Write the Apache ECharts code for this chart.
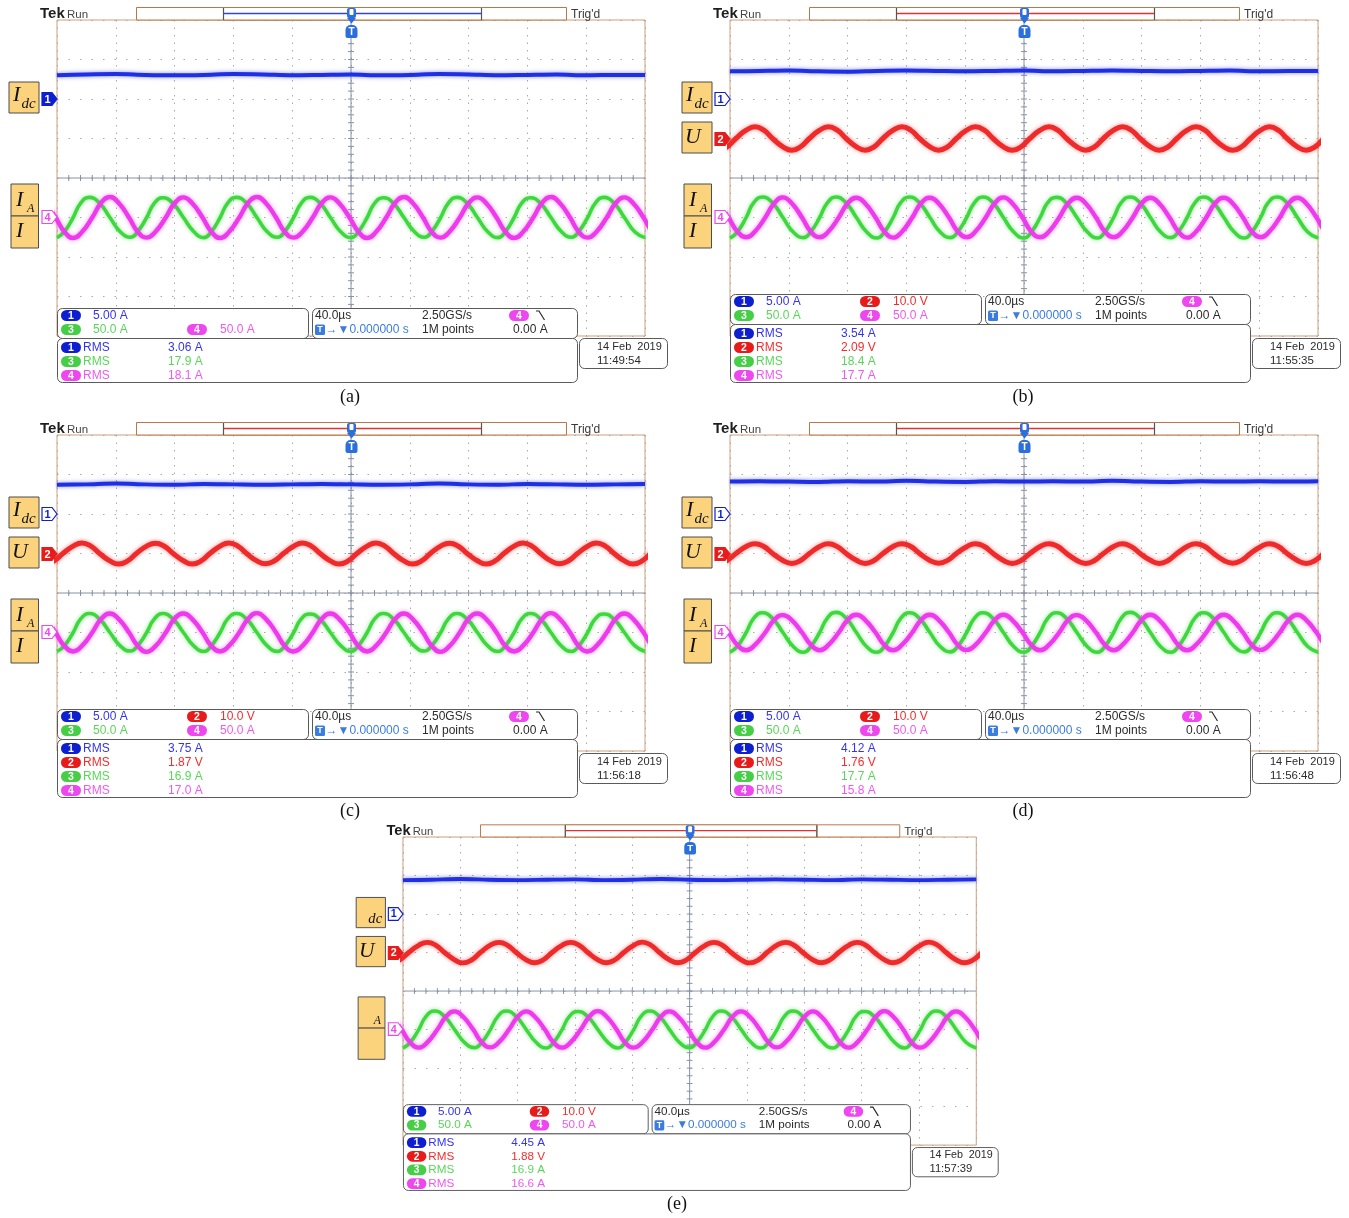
<!DOCTYPE html>
<html>
<head>
<meta charset="utf-8">
<title>Oscilloscope captures (a)–(e)</title>
<script src="https://cdn.jsdelivr.net/npm/echarts/dist/echarts.min.js"></script>
<style>
  html, body { margin: 0; padding: 0; background: #ffffff; }
  #chart { width: 1349px; height: 1218px; }
</style>
</head>
<body>
<div id="chart"></div>
<script>
// ---------------- acquisition settings ----------------
// Horizontal: 40.0 µs/div over 10 divisions, trigger in the centre (µs)
const TIME_MIN = -200;
const TIME_MAX = 200;
const TIME_DIV = 40;

// Vertical settings of the four channels
const chPerDiv = [5, 10, 50, 50];        // A/div, V/div, A/div, A/div
const chOffsetDiv = [2, 1, -1, -1];      // ground marker, divisions above centre
const chScaleText = ['5.00 A', '10.0 V', '50.0 A', '50.0 A'];
const chUnit = ['A', 'V', 'A', 'A'];

// Captures (a)–(e)
const captions = ['(a)', '(b)', '(c)', '(d)', '(e)'];
const captureDate = '14 Feb  2019';
const captureTimes = ['11:49:54', '11:55:35', '11:56:18', '11:56:48', '11:57:39'];
const rmsCh1 = [3.06, 3.54, 3.75, 4.12, 4.45];
const rmsCh2 = [null, 2.09, 1.87, 1.76, 1.88];
const rmsCh3 = [17.9, 18.4, 16.9, 17.7, 16.9];
const rmsCh4 = [18.1, 17.7, 17.0, 15.8, 16.6];
const activeCh = [1, 2, 2, 2, 2];
const labelMain = ['I', 'I', 'I', 'I', ''];

// ---------------- trace samples ----------------
// sample instants (µs): ch1 every 20 µs, the others at peaks, troughs,
// mid crossings and the points half way between them
const tCh1 = [-200,-180,-160,-140,-120,-100,-80,-60,-40,-20,0,20,40,60,80,100,120,140,160,180,200];
const tCh2 = [
  -208,-202,-196,-189,-183,-177,-171,-164,
  -158,-152,-146,-139,-133,-127,-121,-114,
  -108,-102,-96,-89,-83,-77,-71,-64,
  -58,-52,-46,-39,-33,-27,-21,-14,
  -8,-2,4,11,17,23,29,36,
  42,48,54,61,67,73,79,86,
  92,98,104,111,117,123,129,136,
  142,148,154,161,167,173,179,186,
  192,198,204,211,217];
const tCh3 = [
  -200,-195,-189,-184,-178,-171,-164,-157,
  -150,-145,-139,-134,-128,-121,-114,-107,
  -100,-95,-89,-84,-78,-71,-64,-57,
  -50,-45,-39,-34,-28,-21,-14,-7,
  0,5,11,16,22,29,36,43,
  50,55,61,66,72,79,86,93,
  100,105,111,116,122,129,136,143,
  150,155,161,166,172,179,186,193,
  200];
const tCh4 = [
  -214,-208,-201,-195,-189,-183,-176,-170,
  -164,-158,-151,-145,-139,-133,-126,-120,
  -114,-108,-101,-95,-89,-83,-76,-70,
  -64,-58,-51,-45,-39,-33,-26,-20,
  -14,-8,-1,5,11,17,24,30,
  36,42,49,55,61,67,74,80,
  86,92,99,105,111,117,124,130,
  136,142,149,155,161,167,174,180,
  186,192,199,205,211];

// (a)
const ch1_a = [3.00,3.10,3.15,3.05,3.00,3.05,3.15,3.10,3.00,3.05,3.10,3.00,3.05,3.15,3.10,3.00,3.05,3.10,3.00,3.05,3.05];
const ch3_a = [
  -25.5,-18.0,0,18.0,25.5,18.0,0,-18.0,
  -25.0,-17.7,0,17.7,25.0,17.7,0,-17.7,
  -25.5,-18.0,0,18.0,25.5,18.0,0,-18.0,
  -25.0,-17.7,0,17.7,25.5,18.0,0,-18.0,
  -25.5,-18.0,0,18.0,25.0,17.7,0,-17.7,
  -25.0,-17.7,0,17.7,25.5,18.0,0,-18.0,
  -25.5,-18.0,0,18.0,25.0,17.7,0,-17.7,
  -25.0,-17.7,0,17.7,25.5,18.0,0,-18.0,
  -25.5];
const ch4_a = [
  25.5,18.0,0,-18.0,-26.0,-18.4,0,18.4,
  26.0,18.4,0,-18.4,-25.5,-18.0,0,18.0,
  25.5,18.0,0,-18.0,-26.0,-18.4,0,18.4,
  26.0,18.4,0,-18.4,-25.5,-18.0,0,18.0,
  25.5,18.0,0,-18.0,-26.0,-18.4,0,18.4,
  26.0,18.4,0,-18.4,-25.5,-18.0,0,18.0,
  25.5,18.0,0,-18.0,-26.0,-18.4,0,18.4,
  26.0,18.4,0,-18.4,-25.5,-18.0,0,18.0,
  25.5,18.0,0,-18.0,-26.0];

// (b)
const ch1_b = [3.50,3.55,3.60,3.50,3.45,3.55,3.60,3.55,3.50,3.55,3.60,3.50,3.55,3.60,3.55,3.50,3.55,3.60,3.50,3.55,3.55];
const ch2_b = [
  -2.95,-2.10,0,2.10,2.95,2.10,0,-2.10,
  -3.00,-2.10,0,2.10,2.95,2.10,0,-2.10,
  -2.95,-2.10,0,2.10,3.00,2.10,0,-2.10,
  -2.95,-2.10,0,2.10,2.95,2.10,0,-2.10,
  -3.00,-2.10,0,2.10,2.95,2.10,0,-2.10,
  -2.95,-2.10,0,2.10,3.00,2.10,0,-2.10,
  -2.95,-2.10,0,2.10,2.95,2.10,0,-2.10,
  -3.00,-2.10,0,2.10,2.95,2.10,0,-2.10,
  -2.95,-2.10,0,2.10,2.95];
const ch3_b = [
  -26.0,-18.4,0,18.4,26.0,18.4,0,-18.4,
  -25.5,-18.0,0,18.0,26.0,18.4,0,-18.4,
  -26.0,-18.4,0,18.4,26.0,18.4,0,-18.4,
  -25.5,-18.0,0,18.0,26.0,18.4,0,-18.4,
  -26.0,-18.4,0,18.4,25.5,18.0,0,-18.0,
  -26.0,-18.4,0,18.4,26.0,18.4,0,-18.4,
  -25.5,-18.0,0,18.0,26.0,18.4,0,-18.4,
  -26.0,-18.4,0,18.4,26.0,18.4,0,-18.4,
  -26.0];
const ch4_b = [
  25.0,17.7,0,-17.7,-25.0,-17.7,0,17.7,
  25.5,18.0,0,-18.0,-25.0,-17.7,0,17.7,
  25.0,17.7,0,-17.7,-25.5,-18.0,0,18.0,
  25.0,17.7,0,-17.7,-25.0,-17.7,0,17.7,
  25.5,18.0,0,-18.0,-25.0,-17.7,0,17.7,
  25.0,17.7,0,-17.7,-25.0,-17.7,0,17.7,
  25.0,17.7,0,-17.7,-25.5,-18.0,0,18.0,
  25.0,17.7,0,-17.7,-25.0,-17.7,0,17.7,
  25.0,17.7,0,-17.7,-25.0];

// (c)
const ch1_c = [3.70,3.75,3.85,3.75,3.70,3.80,3.75,3.70,3.75,3.80,3.75,3.70,3.75,3.85,3.75,3.70,3.80,3.75,3.70,3.75,3.80];
const ch2_c = [
  -2.65,-1.87,0,1.87,2.65,1.87,0,-1.87,
  -2.65,-1.87,0,1.87,2.60,1.84,0,-1.84,
  -2.65,-1.87,0,1.87,2.65,1.87,0,-1.87,
  -2.60,-1.84,0,1.84,2.65,1.87,0,-1.87,
  -2.65,-1.87,0,1.87,2.65,1.87,0,-1.87,
  -2.65,-1.87,0,1.87,2.60,1.84,0,-1.84,
  -2.65,-1.87,0,1.87,2.65,1.87,0,-1.87,
  -2.60,-1.84,0,1.84,2.65,1.87,0,-1.87,
  -2.65,-1.87,0,1.87,2.65];
const ch3_c = [
  -24.0,-16.9,0,16.9,24.0,16.9,0,-16.9,
  -23.5,-16.6,0,16.6,24.0,16.9,0,-16.9,
  -24.0,-16.9,0,16.9,24.0,16.9,0,-16.9,
  -24.0,-16.9,0,16.9,23.5,16.6,0,-16.6,
  -24.0,-16.9,0,16.9,24.0,16.9,0,-16.9,
  -23.5,-16.6,0,16.6,24.0,16.9,0,-16.9,
  -24.0,-16.9,0,16.9,24.0,16.9,0,-16.9,
  -24.0,-16.9,0,16.9,23.5,16.6,0,-16.6,
  -24.0];
const ch4_c = [
  24.0,17.0,0,-17.0,-24.0,-17.0,0,17.0,
  24.0,17.0,0,-17.0,-24.5,-17.3,0,17.3,
  24.0,17.0,0,-17.0,-24.0,-17.0,0,17.0,
  24.5,17.3,0,-17.3,-24.0,-17.0,0,17.0,
  24.0,17.0,0,-17.0,-24.0,-17.0,0,17.0,
  24.0,17.0,0,-17.0,-24.5,-17.3,0,17.3,
  24.0,17.0,0,-17.0,-24.0,-17.0,0,17.0,
  24.5,17.3,0,-17.3,-24.0,-17.0,0,17.0,
  24.0,17.0,0,-17.0,-24.0];

// (d)
const ch1_d = [4.10,4.15,4.10,4.05,4.15,4.10,4.20,4.10,4.05,4.15,4.10,4.15,4.10,4.20,4.10,4.05,4.15,4.10,4.15,4.10,4.15];
const ch2_d = [
  -2.50,-1.76,0,1.76,2.50,1.76,0,-1.76,
  -2.50,-1.76,0,1.76,2.45,1.73,0,-1.73,
  -2.50,-1.76,0,1.76,2.50,1.76,0,-1.76,
  -2.45,-1.73,0,1.73,2.50,1.76,0,-1.76,
  -2.50,-1.76,0,1.76,2.50,1.76,0,-1.76,
  -2.50,-1.76,0,1.76,2.45,1.73,0,-1.73,
  -2.50,-1.76,0,1.76,2.50,1.76,0,-1.76,
  -2.45,-1.73,0,1.73,2.50,1.76,0,-1.76,
  -2.50,-1.76,0,1.76,2.50];
const ch3_d = [
  -25.0,-17.7,0,17.7,25.0,17.7,0,-17.7,
  -25.0,-17.7,0,17.7,25.5,18.0,0,-18.0,
  -25.0,-17.7,0,17.7,25.0,17.7,0,-17.7,
  -24.5,-17.3,0,17.3,25.0,17.7,0,-17.7,
  -25.0,-17.7,0,17.7,25.0,17.7,0,-17.7,
  -25.0,-17.7,0,17.7,25.5,18.0,0,-18.0,
  -25.0,-17.7,0,17.7,25.0,17.7,0,-17.7,
  -24.5,-17.3,0,17.3,25.0,17.7,0,-17.7,
  -25.0];
const ch4_d = [
  22.5,15.8,0,-15.8,-22.5,-15.8,0,15.8,
  22.0,15.6,0,-15.6,-22.5,-15.8,0,15.8,
  22.5,15.8,0,-15.8,-22.5,-15.8,0,15.8,
  22.5,15.8,0,-15.8,-22.0,-15.6,0,15.6,
  22.5,15.8,0,-15.8,-22.5,-15.8,0,15.8,
  22.0,15.6,0,-15.6,-22.5,-15.8,0,15.8,
  22.5,15.8,0,-15.8,-22.5,-15.8,0,15.8,
  22.5,15.8,0,-15.8,-22.0,-15.6,0,15.6,
  22.5,15.8,0,-15.8,-22.5];

// (e)
const ch1_e = [4.40,4.45,4.55,4.45,4.40,4.45,4.50,4.40,4.45,4.55,4.45,4.40,4.45,4.50,4.45,4.40,4.50,4.45,4.40,4.45,4.50];
const ch2_e = [
  -2.65,-1.88,0,1.88,2.65,1.88,0,-1.88,
  -2.70,-1.90,0,1.90,2.65,1.88,0,-1.88,
  -2.65,-1.88,0,1.88,2.65,1.88,0,-1.88,
  -2.65,-1.88,0,1.88,2.70,1.90,0,-1.90,
  -2.65,-1.88,0,1.88,2.65,1.88,0,-1.88,
  -2.70,-1.90,0,1.90,2.65,1.88,0,-1.88,
  -2.65,-1.88,0,1.88,2.65,1.88,0,-1.88,
  -2.65,-1.88,0,1.88,2.70,1.90,0,-1.90,
  -2.65,-1.88,0,1.88,2.65];
const ch3_e = [
  -24.0,-16.9,0,16.9,24.0,16.9,0,-16.9,
  -23.5,-16.6,0,16.6,24.0,16.9,0,-16.9,
  -24.0,-16.9,0,16.9,23.5,16.6,0,-16.6,
  -24.0,-16.9,0,16.9,24.0,16.9,0,-16.9,
  -23.5,-16.6,0,16.6,24.0,16.9,0,-16.9,
  -24.0,-16.9,0,16.9,24.0,16.9,0,-16.9,
  -24.0,-16.9,0,16.9,23.5,16.6,0,-16.6,
  -24.0,-16.9,0,16.9,24.0,16.9,0,-16.9,
  -24.0];
const ch4_e = [
  23.5,16.6,0,-16.6,-23.5,-16.6,0,16.6,
  23.5,16.6,0,-16.6,-23.0,-16.3,0,16.3,
  23.5,16.6,0,-16.6,-23.5,-16.6,0,16.6,
  24.0,17.0,0,-17.0,-23.5,-16.6,0,16.6,
  23.5,16.6,0,-16.6,-23.5,-16.6,0,16.6,
  23.5,16.6,0,-16.6,-23.0,-16.3,0,16.3,
  23.5,16.6,0,-16.6,-23.5,-16.6,0,16.6,
  24.0,17.0,0,-17.0,-23.5,-16.6,0,16.6,
  23.5,16.6,0,-16.6,-23.5];

// ---------------- page layout ----------------
// each capture is drawn in its own coordinate frame, placed and scaled here
const LAYOUT = [
  { x: 0,     y: 0,     s: 1 },
  { x: 673,   y: 0,     s: 1 },
  { x: 0,     y: 415,   s: 1 },
  { x: 673,   y: 415,   s: 1 },
  { x: 347.4, y: 817.5, s: 0.975 }
];
const CAPTION_XY = [[350, 397], [1023, 397], [350, 811], [1023, 811], [677, 1204]];
const SCREEN = { l: 57, t: 20, w: 588, h: 316 };   // graticule, frame units

const TRACE = ['#1f2fe4', '#ef2a2a', '#3ed83e', '#ec3aec'];
const TEXTC = ['#3434f0', '#f42c2c', '#5ad65a', '#f058f0'];
const BADGE = ['#0e1fcf', '#e81b1b', '#46cf46', '#ef47ef'];
const FRAME = '#cf9f79';
const BAR = '#b87848';
const CROSS = '#8790a6';
const GRIDDOT = '#a9a9a9';
const DARK = '#2b2b2b';
const TRIG_BLUE = '#3a7ce0';
const SANS = '"Liberation Sans", Arial, sans-serif';
const SERIF = '"Liberation Serif", "Times New Roman", serif';

const traces = [
  [ch1_a, null,  ch3_a, ch4_a],
  [ch1_b, ch2_b, ch3_b, ch4_b],
  [ch1_c, ch2_c, ch3_c, ch4_c],
  [ch1_d, ch2_d, ch3_d, ch4_d],
  [ch1_e, ch2_e, ch3_e, ch4_e]
];
const traceTimes = [tCh1, tCh2, tCh3, tCh4];
const traceWidth = [4, 5, 3.6, 4.4];
const traceZ = [3, 3, 4, 5];

// ---------------- helpers for the screen furniture ----------------
function text(x, y, str, fill, size, o) {
  o = o || {};
  return {
    type: 'text', x: x, y: y, z: o.z || 61, silent: true,
    style: {
      text: str, fill: fill, fontSize: size, fontFamily: o.family || SANS,
      fontWeight: o.weight || 'normal', fontStyle: o.italic ? 'italic' : 'normal',
      align: o.align || 'left', verticalAlign: 'middle',
      textAlign: o.align || 'left', textVerticalAlign: 'middle'
    }
  };
}
function rect(x, y, w, h, style, z, r) {
  return { type: 'rect', z: z, silent: true, shape: { x: x, y: y, width: w, height: h, r: r || 0 }, style: style };
}
function line(x1, y1, x2, y2, stroke, w, z) {
  return { type: 'line', z: z, silent: true, shape: { x1: x1, y1: y1, x2: x2, y2: y2 }, style: { stroke: stroke, lineWidth: w } };
}
function pill(kids, x, y, ch) {
  kids.push(rect(x, y - 5.5, 20, 11, { fill: BADGE[ch - 1] }, 60, 5.5));
  kids.push(text(x + 10, y + 0.5, String(ch), '#ffffff', 10.5, { weight: 'bold', align: 'center', z: 61 }));
}
function chMarker(kids, y, ch, filled) {
  const col = BADGE[ch - 1];
  kids.push({
    type: 'polygon', z: 60, silent: true,
    shape: { points: [[42, y - 6.5], [52, y - 6.5], [57, y], [52, y + 6.5], [42, y + 6.5]] },
    style: { fill: filled ? col : '#ffffff', stroke: col, lineWidth: 1.2 }
  });
  kids.push(text(47.5, y + 0.5, String(ch), filled ? '#ffffff' : col, 11, { weight: 'bold', align: 'center', z: 61 }));
}
function yellowBox(kids, x, y, w, h) {
  kids.push(rect(x, y, w, h, { fill: '#fcd37d', stroke: '#4d4d4d', lineWidth: 1 }, 55));
}
function fmt(v, unit) {
  return (v >= 10 ? v.toFixed(1) : v.toFixed(2)) + ' ' + unit;
}

function panelGroup(p) {
  const L = LAYOUT[p];
  const hasCh2 = rmsCh2[p] !== null;
  const act = activeCh[p];
  const kids = [];
  const cx = SCREEN.l + SCREEN.w / 2;
  const cy = SCREEN.t + SCREEN.h / 2;

  // header strip
  kids.push(text(40, 14, 'Tek', '#1e1e1e', 15, { weight: 'bold', z: 61 }));
  kids.push(text(67, 14.5, 'Run', '#444444', 11.5));
  kids.push(rect(136.5, 7.5, 430, 12.5, { fill: '#ffffff', stroke: BAR, lineWidth: 1 }, 40));
  kids.push(rect(223.5, 7.5, 258, 12.5, { fill: '#ffffff', stroke: BAR, lineWidth: 1 }, 41));
  kids.push(line(223.5, 8, 223.5, 20, '#555555', 1.2, 42));
  kids.push(line(481.5, 8, 481.5, 20, '#555555', 1.2, 42));
  kids.push(line(224, 13.5, 481, 13.5, act === 1 ? '#3344dd' : '#e53030', 1.3, 42));
  kids.push(text(571, 14.5, "Trig'd", '#3a3a3a', 12));

  // trigger position marker
  kids.push(rect(347, 8, 9, 10, { fill: '#2b6fdc' }, 45, 2));
  kids.push(rect(349.5, 9, 4, 6, { fill: '#ffffff' }, 46, 1));
  kids.push({ type: 'polygon', z: 45, silent: true, shape: { points: [[347, 18], [356, 18], [351.5, 23.5]] }, style: { fill: '#2b6fdc' } });
  kids.push(rect(345.5, 25, 12, 13, { fill: '#2b6fdc' }, 45, [5, 5, 2, 2]));
  kids.push(text(351.5, 32, 'T', '#ffffff', 10, { weight: 'bold', align: 'center', z: 46 }));

  // centre crosshair with minor ticks
  kids.push(line(cx, SCREEN.t, cx, SCREEN.t + SCREEN.h, CROSS, 1, 1));
  kids.push(line(SCREEN.l, cy, SCREEN.l + SCREEN.w, cy, CROSS, 1, 1));
  for (let j = 1; j < 40; j++) {
    const y = SCREEN.t + j * SCREEN.h / 40;
    kids.push(line(cx - 3, y, cx + 3, y, CROSS, 1, 1));
  }
  for (let j = 1; j < 50; j++) {
    const x = SCREEN.l + j * SCREEN.w / 50;
    kids.push(line(x, cy - 3, x, cy + 3, CROSS, 1, 1));
  }

  // channel ground markers
  chMarker(kids, 99, 1, act === 1);
  if (hasCh2) chMarker(kids, 139, 2, act === 2);
  chMarker(kids, 217, 4, false);

  // trace names
  const main = labelMain[p];
  yellowBox(kids, 9, 82, 30, 31);
  if (main) kids.push(text(13, 95.5, main, '#111111', 22, { family: SERIF, italic: true, z: 56 }));
  kids.push(text(21.5, 104.5, 'dc', '#111111', 15, { family: SERIF, italic: true, z: 56 }));
  if (hasCh2) {
    yellowBox(kids, 9, 122, 30, 31);
    kids.push(text(12, 137.5, 'U', '#111111', 22, { family: SERIF, italic: true, z: 56 }));
  }
  yellowBox(kids, 11, 184, 27.5, 32);
  yellowBox(kids, 11, 216, 27.5, 32);
  if (main) kids.push(text(16, 200, main, '#111111', 22, { family: SERIF, italic: true, z: 56 }));
  kids.push(text(27, 208.5, 'A', '#111111', 12, { family: SERIF, italic: true, z: 56 }));
  if (main) kids.push(text(16, 231.5, main, '#111111', 22, { family: SERIF, italic: true, z: 56 }));

  // readout boxes
  const n = hasCh2 ? 4 : 3;
  const sh = 14 * (n - 3);
  const boxStyle = { fill: '#ffffff', stroke: '#5a5a5a', lineWidth: 1 };
  kids.push(rect(57.5, 308.5 - sh, 251, 30, boxStyle, 58, 5));
  kids.push(rect(312.5, 308.5 - sh, 265, 30, boxStyle, 58, 5));
  kids.push(rect(57.5, 338.5 - sh, 520, 44 + sh, boxStyle, 58, 5));
  kids.push(rect(579.5, 338.5, 88, 30, boxStyle, 58, 5));

  const r1 = 315.5 - sh, r2 = 329.5 - sh;
  pill(kids, 61, r1, 1);
  kids.push(text(93, r1, chScaleText[0], TEXTC[0], 12));
  if (hasCh2) {
    pill(kids, 187, r1, 2);
    kids.push(text(220, r1, chScaleText[1], TEXTC[1], 12));
  }
  pill(kids, 61, r2, 3);
  kids.push(text(93, r2, chScaleText[2], TEXTC[2], 12));
  pill(kids, 187, r2, 4);
  kids.push(text(220, r2, chScaleText[3], TEXTC[3], 12));

  kids.push(text(315, r1, '40.0\u00b5s', DARK, 12));
  kids.push(text(422, r1, '2.50GS/s', DARK, 12));
  pill(kids, 509, r1, 4);
  kids.push({ type: 'polyline', z: 61, silent: true,
    shape: { points: [[536, r1 - 4.5], [539, r1 - 4.5], [544.5, r1 + 4.5]] },
    style: { stroke: DARK, lineWidth: 1.2, fill: null } });
  kids.push(rect(315, r2 - 5, 10, 10.5, { fill: TRIG_BLUE }, 60, 1.5));
  kids.push(text(320, r2 + 0.5, 'T', '#ffffff', 9, { weight: 'bold', align: 'center' }));
  kids.push(text(325.5, r2, '\u2192\u25bc0.000000 s', TRIG_BLUE, 12));
  kids.push(text(422, r2, '1M points', DARK, 12));
  kids.push(text(513, r2, '0.00 A', DARK, 12));

  const rows = [[1, rmsCh1[p]]];
  if (hasCh2) rows.push([2, rmsCh2[p]]);
  rows.push([3, rmsCh3[p]], [4, rmsCh4[p]]);
  rows.forEach(function (r, k) {
    const y = 375.5 - 14 * (n - 1 - k);
    const c = r[0];
    pill(kids, 61, y, c);
    kids.push(text(83, y, 'RMS', TEXTC[c - 1], 12));
    kids.push(text(168, y, fmt(r[1], chUnit[c - 1]), TEXTC[c - 1], 12));
  });

  kids.push(text(597, 346.5, captureDate, DARK, 11));
  kids.push(text(597, 360.5, captureTimes[p], DARK, 11.5));

  return { type: 'group', x: L.x, y: L.y, scaleX: L.s, scaleY: L.s, children: kids };
}

// ---------------- chart option ----------------
const grids = [], xAxes = [], yAxes = [], series = [];
LAYOUT.forEach(function (L, p) {
  grids.push({
    left: L.x + L.s * SCREEN.l, top: L.y + L.s * SCREEN.t,
    width: L.s * SCREEN.w, height: L.s * SCREEN.h,
    show: true, backgroundColor: '#ffffff', borderColor: FRAME, borderWidth: 1
  });
  xAxes.push({
    type: 'value', gridIndex: p, min: TIME_MIN, max: TIME_MAX, interval: TIME_DIV,
    axisLine: { show: false }, axisTick: { show: false }, axisLabel: { show: false },
    splitLine: { show: true, lineStyle: { color: GRIDDOT, width: 1, type: [1.5, 6] } }
  });
  // graticule divisions
  yAxes.push({
    type: 'value', gridIndex: p, min: -4, max: 4, interval: 1,
    axisLine: { show: false }, axisTick: { show: false }, axisLabel: { show: false },
    splitLine: { show: true, lineStyle: { color: GRIDDOT, width: 1, type: [1.5, 10] } }
  });
  // one hidden scale per channel: volts (amps) per division and ground offset
  for (let c = 0; c < 4; c++) {
    yAxes.push({
      type: 'value', gridIndex: p, show: false,
      min: (-4 - chOffsetDiv[c]) * chPerDiv[c],
      max: (4 - chOffsetDiv[c]) * chPerDiv[c]
    });
  }
  traces[p].forEach(function (vals, c) {
    if (!vals) return;
    const times = traceTimes[c];
    series.push({
      type: 'line', xAxisIndex: p, yAxisIndex: p * 5 + 1 + c,
      data: vals.map(function (v, j) { return [times[j], v]; }),
      symbol: 'none', smooth: c === 0 ? 0.3 : 0.5, silent: true, clip: true,
      z: traceZ[c], animation: false,
      lineStyle: { color: TRACE[c], width: traceWidth[c] * L.s, shadowBlur: 4, shadowColor: TRACE[c] + '88', cap: 'butt', join: 'round' }
    });
  });
});

const graphics = LAYOUT.map(function (L, p) { return panelGroup(p); });
captions.forEach(function (cap, p) {
  graphics.push(text(CAPTION_XY[p][0], CAPTION_XY[p][1], cap, '#111111', 18, { family: SERIF, align: 'center', z: 61 }));
});

const chart = echarts.init(document.getElementById('chart'), null, { renderer: 'canvas' });
chart.setOption({
  animation: false,
  backgroundColor: '#ffffff',
  grid: grids,
  xAxis: xAxes,
  yAxis: yAxes,
  series: series,
  graphic: { elements: graphics }
});
</script>
</body>
</html>
